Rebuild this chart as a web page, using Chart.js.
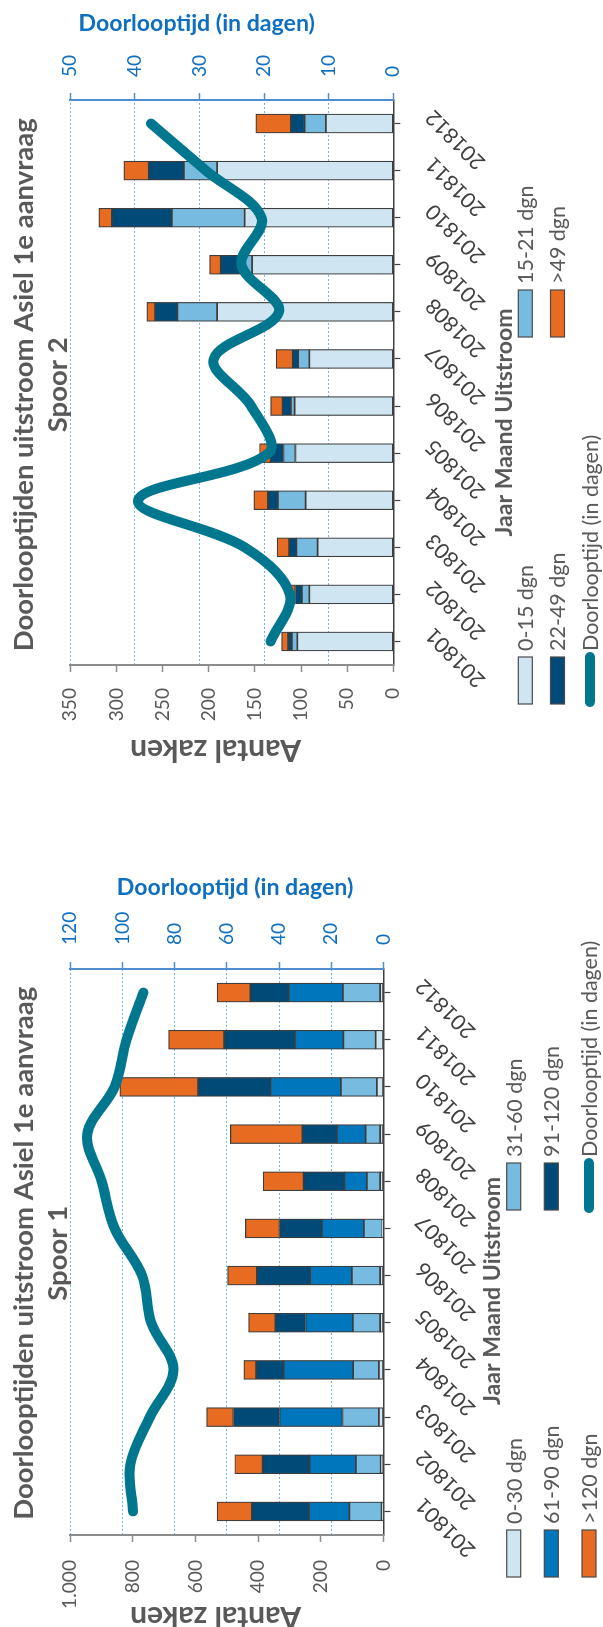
<!DOCTYPE html>
<html>
<head>
<meta charset="utf-8">
<script src="https://cdn.jsdelivr.net/npm/chart.js@4.4.1/dist/chart.umd.min.js"></script>
<style>
html,body{margin:0;padding:0;background:#fff;overflow:hidden;width:603px;height:1627px;}
#rot{position:absolute;left:0;top:0;width:1627px;height:603px;transform-origin:0 0;transform:translate(0px,1627px) rotate(-90deg);}
#c1{position:absolute;left:0;top:0;}
#c2{position:absolute;left:813px;top:0;}
</style>
</head>
<body>
<div id="rot">
<canvas id="c1" width="813" height="603"></canvas>
<canvas id="c2" width="814" height="603"></canvas>
</div>
<script>
const categories = ['201801','201802','201803','201804','201805','201806','201807','201808','201809','201810','201811','201812'];

// Spoor 1
const spoor1Labels  = ['0-30 dgn','31-60 dgn','61-90 dgn','91-120 dgn','>120 dgn'];
const spoor1_0_30   = [6, 9, 15, 15, 11, 11, 4, 11, 11, 21, 25, 11];
const spoor1_31_60  = [103, 79, 116, 82, 87, 90, 59, 42, 46, 115, 103, 119];
const spoor1_61_90  = [129, 148, 201, 222, 151, 133, 134, 72, 92, 225, 155, 173];
const spoor1_91_120 = [182, 150, 147, 88, 96, 170, 135, 130, 110, 231, 226, 122];
const spoor1_gt120  = [111, 89, 86, 39, 86, 94, 109, 129, 230, 250, 177, 106];
const spoor1Days    = [96, 97, 89.5, 80.5, 89, 92.5, 103, 108, 113.5, 103, 98.5, 92];
const spoor1CountTicks = ['0','200','400','600','800','1.000'];
const spoor1DayTicks   = ['0','20','40','60','80','100','120'];

// Spoor 2
const spoor2Labels  = ['0-15 dgn','15-21 dgn','22-49 dgn','>49 dgn'];
const spoor2_0_15   = [104, 91, 82, 95, 106, 107, 91, 191, 153, 161, 191, 73];
const spoor2_15_21  = [6, 8, 23, 30, 13, 4, 12, 43, 12, 79, 36, 23];
const spoor2_22_49  = [4, 7, 8, 11, 14, 9, 6, 24, 22, 65, 38, 15];
const spoor2_gt49   = [7, 5, 13, 15, 12, 13, 18, 9, 12, 14, 27, 38];
const spoor2Days    = [19, 16, 23, 39.5, 19.3, 22, 27.8, 17.7, 23.5, 20.4, 29, 37.5];
const spoor2CountTicks = ['0','50','100','150','200','250','300','350'];
const spoor2DayTicks   = ['0','10','20','30','40','50'];

const mainTitle = 'Doorlooptijden uitstroom Asiel 1e aanvraag';
const xTitle = 'Jaar Maand Uitstroom';
const yTitle = 'Aantal zaken';
const y2Title = 'Doorlooptijd (in dagen)';
const lineLabel = 'Doorlooptijd (in dagen)';

const FONT = 'Lato';
const mctx = document.createElement('canvas').getContext('2d');
function fit(text, weight, target){ mctx.font = weight + ' 100px ' + FONT; return +(100*target/mctx.measureText(text).width).toFixed(2); }
const tickPx = fit('000','normal',33.3);
const catPx = fit('201801','normal',74);
const legendPx = fit('0-30 dgn','normal',86);
const titlePx = fit(mainTitle,'bold',533);
const xTitlePx = fit(xTitle,'bold',228);
const yTitlePx = fit(yTitle,'bold',171);
const y2TitlePx = fit(y2Title,'bold',236.6);

const GRAY='#595959', DARK='#404040', BLUE='#0f6fc0', AXISBLUE='#4f8fd0', GRID='#6cb8e8', AXGRAY='#8c8c8c';
const COLORS=['#cfe6f2','#78bbe1','#0076bc','#004a77','#e86b22'];
const LINEC='#00778f';

function decor(L){ return {id:'decor', afterDraw(chart){
  const ctx = chart.ctx; ctx.save();
  ctx.fillStyle = GRAY; ctx.textAlign='center'; ctx.textBaseline='alphabetic';
  ctx.font = 'bold ' + titlePx + 'px ' + FONT;
  ctx.fillText(mainTitle, L.titleX, 33.3);
  ctx.fillText(L.sub, L.titleX, 67);
  ctx.font = 'bold ' + xTitlePx + 'px ' + FONT;
  ctx.fillText(xTitle, L.xTitleX, L.xTitleBase);
  ctx.save(); ctx.translate(L.yTitleBase, 215.5); ctx.rotate(-Math.PI/2);
  ctx.font = 'bold ' + yTitlePx + 'px ' + FONT; ctx.fillText(yTitle, 0, 0); ctx.restore();
  ctx.save(); ctx.translate(L.y2TitleBase, L.y2TitleY); ctx.rotate(Math.PI/2);
  ctx.fillStyle = BLUE; ctx.font = 'bold ' + y2TitlePx + 'px ' + FONT; ctx.fillText(y2Title, 0, 0); ctx.restore();
  // legend
  ctx.font = legendPx + 'px ' + FONT; ctx.textAlign='left'; ctx.textBaseline='middle';
  L.legend.forEach(([i,x,y])=>{
    const ds = chart.data.datasets[i];
    if (ds.type === 'line') {
      ctx.save(); ctx.strokeStyle = ds.borderColor; ctx.lineWidth = 10; ctx.lineCap='round';
      ctx.beginPath(); ctx.moveTo(x+2, y); ctx.lineTo(x+47, y); ctx.stroke(); ctx.restore();
    } else {
      ctx.fillStyle = ds.backgroundColor; ctx.fillRect(x, y-7, 47, 14);
      ctx.strokeStyle = '#4a4a4a'; ctx.lineWidth = 1.2; ctx.strokeRect(x, y-7, 47, 14);
    }
    ctx.fillStyle = GRAY; ctx.fillText(ds.label, x+53, y+1);
  });
  ctx.restore();
}}; }

function build(id, L){
  const datasets = L.bars.map((arr,i)=>({type:'bar', label:L.barLabels[i], data:arr, backgroundColor:COLORS[L.colorIdx[i]],
    borderColor:'#3d3d3d', borderWidth:1.2, borderSkipped:false, barThickness:19, yAxisID:'y', xAxisID:'x', order:1}));
  datasets.push({type:'line', label:lineLabel, data:L.days, yAxisID:'y2', borderColor:LINEC, borderWidth:10,
    borderCapStyle:'round', borderJoinStyle:'round', pointRadius:0, pointHoverRadius:0, tension:0.35, fill:false, order:0});
  return new Chart(document.getElementById(id), {
    data:{labels:categories, datasets},
    options:{responsive:false, animation:false, devicePixelRatio:1,
      layout:{padding:{top:L.top,left:0,right:0,bottom:0}},
      plugins:{legend:{display:false}, tooltip:{enabled:false}, title:{display:false}},
      scales:{
        x:{stacked:true, offset:true, afterFit:s=>{s.height=L.xH;},
          grid:{display:true, offset:false, drawOnChartArea:false, drawTicks:true, tickLength:7, tickColor:DARK, tickWidth:1.2},
          border:{display:true,color:DARK,width:1.5},
          ticks:{autoSkip:false, minRotation:45, maxRotation:45, padding:L.xPad, labelOffset:L.xLabOff, color:DARK, font:{family:FONT,size:catPx}}},
        y:{position:'left', stacked:true, min:0, max:L.yMax, afterFit:s=>{s.width=L.yW;},
          grid:{display:true, drawOnChartArea:false, drawTicks:true, tickLength:7, tickColor:AXGRAY, tickWidth:1.5},
          border:{display:true,color:AXGRAY,width:2},
          ticks:{stepSize:L.yStep, padding:L.yPad, color:GRAY, font:{family:FONT,size:tickPx}, callback:(v)=>L.yTicks[Math.round(v/L.yStep)]}},
        y2:{position:'right', stacked:false, min:0, max:L.y2Max, afterFit:s=>{s.width=L.y2W;},
          grid:{display:true, drawOnChartArea:true, drawTicks:true, tickLength:7,
            color:(c)=> (c.tick && c.tick.value===0) ? 'rgba(0,0,0,0)' : GRID, lineWidth:1,
            tickColor:AXISBLUE, tickWidth:1.5, tickBorderDash:[]},
          border:{display:true,color:AXISBLUE,width:2,dash:[2,2]},
          ticks:{stepSize:L.y2Step, padding:L.y2Pad, color:BLUE, font:{family:FONT,size:tickPx}, callback:(v)=>L.y2Ticks[Math.round(v/L.y2Step)]}}
      }
    },
    plugins:[decor(L)]
  });
}

build('c1', {
  bars:[spoor1_0_30, spoor1_31_60, spoor1_61_90, spoor1_91_120, spoor1_gt120], barLabels:spoor1Labels, colorIdx:[0,1,2,3,4],
  days:spoor1Days, yTicks:spoor1CountTicks, y2Ticks:spoor1DayTicks,
  top:70.3, yW:92, y2W:155, xH:219.5, yMax:1000, yStep:200, y2Max:120, y2Step:20, yPad:18, y2Pad:17, xPad:20, xLabOff:10,
  titleX:373.7, sub:'Spoor 1', xTitleX:336, xTitleBase:500, yTitleBase:20.3, y2TitleBase:732, y2TitleY:235,
  legend:[[0,50,513.7],[1,417,513.7],[2,50,551.3],[3,417,551.3],[4,50,589],[5,417,589]]
});
build('c2', {
  bars:[spoor2_0_15, spoor2_15_21, spoor2_22_49, spoor2_gt49], barLabels:spoor2Labels, colorIdx:[0,1,3,4],
  days:spoor2Days, yTicks:spoor2CountTicks, y2Ticks:spoor2DayTicks,
  top:70.3, yW:149, y2W:100, xH:209.7, yMax:350, yStep:50, y2Max:50, y2Step:10, yPad:16, y2Pad:16, xPad:20, xLabOff:10,
  titleX:429.2, sub:'Spoor 2', xTitleX:391.5, xTitleBase:511.5, yTitleBase:74, y2TitleBase:783.3, y2TitleY:196.7,
  legend:[[0,110,525.3],[1,477,525.3],[2,110,557.5],[3,477,557.5],[4,110,590]]
});
</script>
</body>
</html>
